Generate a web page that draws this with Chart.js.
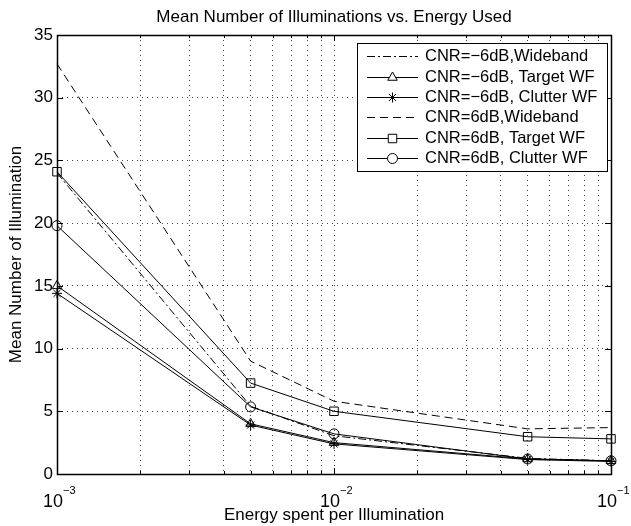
<!DOCTYPE html>
<html>
<head>
<meta charset="utf-8">
<script src="https://cdn.jsdelivr.net/npm/chart.js"></script>
<style>
  html, body { margin: 0; padding: 0; background: #fff; }
  #wrap { width: 631px; height: 526px; }
</style>
</head>
<body>
<div id="wrap"><canvas id="chart" width="631" height="526"></canvas></div>
<script>
// energy per illumination (x, log scale)
const energy = [0.001, 0.005, 0.01, 0.05, 0.1];

// mean number of illuminations
const wideNeg6 = [24.0, 5.4, 3.05, 1.25, 1.05];
const targetNeg6 = [15.0, 4.0, 2.5, 1.2, 1.05];
const clutterNeg6 = [14.4, 3.9, 2.4, 1.15, 1.0];
const wide6 = [32.7, 9.0, 5.8, 3.6, 3.7];
const target6 = [24.1, 7.25, 5.0, 2.97, 2.8];
const clutter6 = [19.8, 5.35, 3.2, 1.2, 1.05];

const seriesLabels = [
    'CNR=\u22126dB,Wideband',
    'CNR=\u22126dB, Target WF',
    'CNR=\u22126dB, Clutter WF',
    'CNR=6dB,Wideband',
    'CNR=6dB, Target WF',
    'CNR=6dB, Clutter WF'
];

const xMajorTicks = [0.001, 0.01, 0.1];
const xTickExponents = ['\u22123', '\u22122', '\u22121'];
const yTicks = [0, 5, 10, 15, 20, 25, 30, 35];

const FONT = '"Liberation Sans", Arial, Helvetica, sans-serif';

function pts(values) {
    return energy.map((x, i) => ({ x: x, y: values[i] }));
}

function makeSet(label, values, dash, marker, radius) {
    return {
        label: label,
        data: pts(values),
        borderColor: '#000',
        backgroundColor: 'rgba(0,0,0,0)',
        borderWidth: 1,
        borderDash: dash,
        pointStyle: marker || 'circle',
        pointRadius: marker ? radius : 0,
        pointBorderColor: '#000',
        pointBackgroundColor: 'rgba(0,0,0,0)',
        pointBorderWidth: 1,
        tension: 0,
        fill: false,
        clip: false
    };
}

const datasets = [
    makeSet(seriesLabels[0], wideNeg6, [8, 3, 2, 3], null, 0),
    makeSet(seriesLabels[1], targetNeg6, [], 'triangle', 5.5),
    makeSet(seriesLabels[2], clutterNeg6, [], 'star', 5),
    makeSet(seriesLabels[3], wide6, [8, 5], null, 0),
    makeSet(seriesLabels[4], target6, [], 'rect', 6),
    makeSet(seriesLabels[5], clutter6, [], 'circle', 5)
];

// box, inward ticks, superscript x labels and the legend
const matlabLook = {
    id: 'matlabLook',
    afterDraw(chart) {
        const ctx = chart.ctx;
        const a = chart.chartArea;
        const xs = chart.scales.x;
        const ys = chart.scales.y;
        ctx.save();
        ctx.strokeStyle = '#000';
        ctx.lineWidth = 1;
        ctx.setLineDash([]);

        // inward tick marks
        ctx.beginPath();
        xs.ticks.forEach(t => {
            const px = Math.round(xs.getPixelForValue(t.value)) + 0.5;
            const major = xMajorTicks.includes(t.value);
            const len = major ? 6 : 3;
            ctx.moveTo(px, a.bottom); ctx.lineTo(px, a.bottom - len);
            ctx.moveTo(px, a.top); ctx.lineTo(px, a.top + len);
        });
        ys.ticks.forEach(t => {
            const py = Math.round(ys.getPixelForValue(t.value)) + 0.5;
            ctx.moveTo(a.left, py); ctx.lineTo(a.left + 6, py);
            ctx.moveTo(a.right, py); ctx.lineTo(a.right - 6, py);
        });
        ctx.stroke();

        // axes box
        ctx.lineWidth = 1.5;
        ctx.strokeRect(Math.round(a.left) + 0.5, Math.round(a.top) + 0.5,
            Math.round(a.right - a.left), Math.round(a.bottom - a.top));

        // x tick labels 10^n
        ctx.fillStyle = '#000';
        ctx.textBaseline = 'alphabetic';
        xMajorTicks.forEach((v, i) => {
            const px = xs.getPixelForValue(v);
            ctx.font = '18px ' + FONT;
            ctx.textAlign = 'right';
            ctx.fillText('10', px + 6, a.bottom + 33);
            ctx.font = '11px ' + FONT;
            ctx.textAlign = 'left';
            ctx.fillText(xTickExponents[i], px + 6, a.bottom + 20);
        });

        // legend
        const boxW = 250, rowH = 20.4;
        const boxR = a.right - 4, boxT = a.top + 8;
        const boxL = boxR - boxW, boxH = Math.round(rowH * 6 + 6);
        ctx.fillStyle = '#fff';
        ctx.fillRect(boxL, boxT, boxW, boxH);
        ctx.lineWidth = 1;
        ctx.strokeRect(Math.round(boxL) + 0.5, Math.round(boxT) + 0.5, boxW, boxH);
        chart.data.datasets.forEach((ds, i) => {
            const cy = Math.round(boxT + 3 + rowH * (i + 0.5)) + 0.5;
            const x0 = boxL + 10, x1 = boxL + 61;
            ctx.strokeStyle = '#000';
            ctx.lineWidth = 1;
            ctx.setLineDash(ds.borderDash || []);
            ctx.beginPath();
            ctx.moveTo(x0, cy); ctx.lineTo(x1, cy);
            ctx.stroke();
            ctx.setLineDash([]);
            if (ds.pointRadius > 0) {
                ctx.fillStyle = '#fff';
                Chart.helpers.drawPoint(ctx, {
                    pointStyle: ds.pointStyle,
                    radius: ds.pointRadius,
                    rotation: 0,
                    borderWidth: 1
                }, (x0 + x1) / 2, cy);
            }
            ctx.fillStyle = '#000';
            ctx.font = '16.5px ' + FONT;
            ctx.textAlign = 'left';
            ctx.textBaseline = 'middle';
            ctx.fillText(ds.label, boxL + 68, cy);
        });
        ctx.restore();
    }
};

new Chart(document.getElementById('chart'), {
    type: 'line',
    data: { datasets: datasets },
    plugins: [matlabLook],
    options: {
        responsive: false,
        animation: false,
        devicePixelRatio: 1,
        layout: { padding: { top: 0, right: 20, bottom: 0, left: 0 } },
        plugins: {
            legend: { display: false },
            tooltip: { enabled: false },
            title: {
                display: true,
                fullSize: false,
                text: 'Mean Number of Illuminations vs. Energy Used',
                color: '#000',
                font: { family: FONT, size: 17, weight: 'normal' },
                padding: { top: 7, bottom: 7.6 }
            }
        },
        scales: {
            x: {
                type: 'logarithmic',
                min: 0.001,
                max: 0.1,
                afterBuildTicks(scale) {
                    const t = [];
                    [0.001, 0.01].forEach(base => {
                        for (let k = 1; k <= 9; k++) t.push({ value: +(base * k).toPrecision(3) });
                    });
                    t.push({ value: 0.1 });
                    scale.ticks = t;
                },
                afterFit(scale) { scale.height = 52; },
                ticks: { display: false, autoSkip: false },
                grid: { color: '#444', lineWidth: 1, drawTicks: false },
                border: { display: false, dash: [1, 4] },
                title: {
                    display: true,
                    text: 'Energy spent per Illumination',
                    color: '#000',
                    font: { family: FONT, size: 17 },
                    padding: { top: 0, bottom: 0 }
                }
            },
            y: {
                min: 0,
                max: 35,
                afterBuildTicks(scale) {
                    scale.ticks = yTicks.map(v => ({ value: v }));
                },
                afterFit(scale) { scale.width = 57; },
                ticks: {
                    color: '#000',
                    font: { family: FONT, size: 17 },
                    padding: 4
                },
                grid: { color: '#444', lineWidth: 1, drawTicks: false },
                border: { display: false, dash: [1, 4] },
                title: {
                    display: true,
                    text: 'Mean Number of Illumination',
                    color: '#000',
                    font: { family: FONT, size: 17 },
                    padding: { top: 6, bottom: 0 }
                }
            }
        }
    }
});
</script>
</body>
</html>
